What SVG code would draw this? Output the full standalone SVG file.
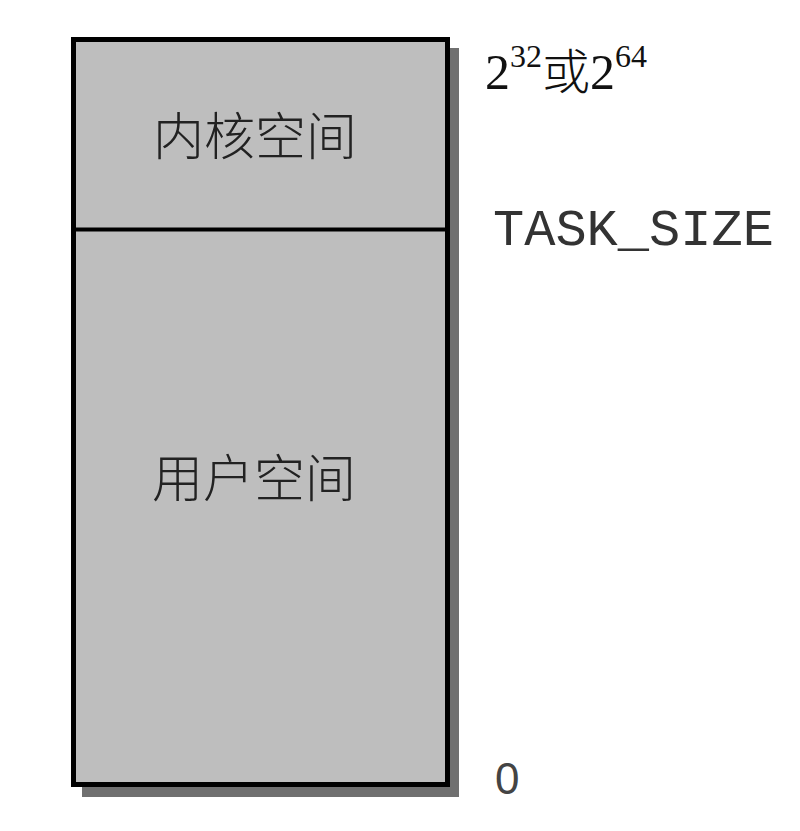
<svg xmlns="http://www.w3.org/2000/svg" width="800" height="831" viewBox="0 0 800 831">
<style>
.cjk{font-family:"Noto Sans CJK SC","Noto Sans CJK JP",sans-serif;font-size:51px;font-weight:300;fill:#222;text-anchor:middle}
.ser{font-family:"Liberation Serif","Noto Serif CJK SC","Noto Sans CJK SC",serif;fill:#111}
</style>
<rect width="800" height="831" fill="#fff"/>
<g id="memory">
<rect x="82" y="48" width="377" height="749" fill="#707070"/>
<rect x="73.5" y="39.5" width="374" height="745" fill="#bebebe" stroke="#000" stroke-width="5"/>
</g>
<g id="connectors">
<line x1="73.5" y1="229.5" x2="447.5" y2="229.5" stroke="#000" stroke-width="4"/>
</g>
<g id="kernel"><text class="cjk" x="255" y="155">内核空间</text></g>
<g id="user"><text class="cjk" x="254" y="497">用户空间</text></g>
<g id="top-label"><text class="ser" x="485" y="89" font-size="50">2<tspan font-size="32" dy="-22">32</tspan><tspan font-family="Noto Sans CJK SC,sans-serif" font-weight="300" font-size="48" dy="22">或</tspan>2<tspan font-size="32" dy="-22">64</tspan></text></g>
<g id="task"><text x="493" y="245" font-family="Liberation Mono,monospace" font-size="52" fill="#333">TASK_SIZE</text></g>
<g id="zero"><text x="495" y="794" font-family="Liberation Sans,sans-serif" font-size="44" fill="#444">0</text></g>
</svg>
